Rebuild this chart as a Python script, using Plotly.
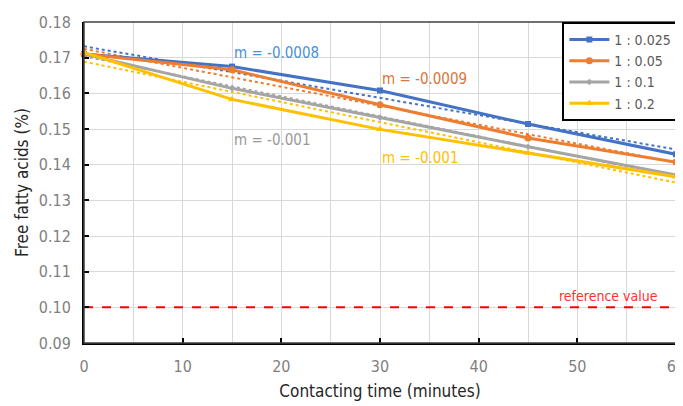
import numpy as np
import plotly.graph_objects as go

time_min = [0, 15, 30, 45, 60]
series_names = ["1 : 0.025", "1 : 0.05", "1 : 0.1", "1 : 0.2"]
ffa_1_0025 = [0.1710, 0.1675, 0.1608, 0.1514, 0.1429]
ffa_1_005 = [0.1710, 0.1666, 0.1568, 0.1475, 0.1407]
ffa_1_01 = [0.1710, 0.1614, 0.1532, 0.1450, 0.1371]
ffa_1_02 = [0.1715, 0.1583, 0.1499, 0.1433, 0.1366]
slope_labels = ["m = -0.0008", "m = -0.0009", "m = -0.001", "m = -0.001"]
reference_value = 0.10
x_ticks = [0, 10, 20, 30, 40, 50, 60]
y_ticks = [0.09, 0.10, 0.11, 0.12, 0.13, 0.14, 0.15, 0.16, 0.17, 0.18]

colors = ["#4472C4", "#ED7D31", "#A5A5A5", "#FFC000"]
label_colors = ["#4A90D9", "#D9763A", "#9A9A9A", "#FFC000"]
symbols = ["square", "circle", "diamond", "triangle-up"]
msizes = [6, 7, 5, 7]
label_pos = [(15.2, 0.1714), (30.2, 0.1640), (15.2, 0.1468), (30.2, 0.1418)]

FONT = "DejaVu Sans Condensed, Liberation Sans Narrow, Roboto, sans-serif"

all_series = [ffa_1_0025, ffa_1_005, ffa_1_01, ffa_1_02]
fig = go.Figure()

for ys, c in zip(all_series, colors):
    m, b = np.polyfit(time_min, ys, 1)
    xs = [time_min[0], time_min[-1]]
    fig.add_trace(go.Scatter(x=xs, y=[m * x + b for x in xs], mode="lines",
                             line=dict(color=c, width=2, dash="dot"),
                             showlegend=False, hoverinfo="skip", cliponaxis=False))

for ys, name, c, s, ms in zip(all_series, series_names, colors, symbols, msizes):
    fig.add_trace(go.Scatter(x=time_min, y=ys, mode="lines+markers", name=name,
                             line=dict(color=c, width=3),
                             marker=dict(symbol=s, size=ms, color=c), cliponaxis=False))

fig.add_trace(go.Scatter(x=[0, 60], y=[reference_value, reference_value], mode="lines",
                         line=dict(color="#FF0000", width=2, dash="dash"),
                         showlegend=False, hoverinfo="skip"))

for (lx, ly), txt, lc in zip(label_pos, slope_labels, label_colors):
    fig.add_annotation(x=lx, y=ly, text=txt, showarrow=False, xanchor="left",
                       yanchor="middle", xshift=-2, font=dict(family=FONT, size=15, color=lc))

fig.add_annotation(x=58.2, y=0.1033, text="reference value", showarrow=False,
                   xanchor="right", yanchor="middle", xshift=2,
                   font=dict(family=FONT, size=14, color="#FF3030"))

fig.update_layout(
    width=683, height=406,
    margin=dict(l=76, r=15, t=14, b=71),
    paper_bgcolor="white", plot_bgcolor="white",
    font=dict(family=FONT, size=16, color="#595959"),
    legend=dict(x=1.004, y=1, xanchor="right", yanchor="top",
                bordercolor="black", borderwidth=2, bgcolor="white",
                font=dict(family=FONT, size=14, color="#595959"),
                tracegroupgap=0, itemwidth=40),
    showlegend=True,
)
fig.update_xaxes(range=[0, 60], tickvals=x_ticks, ticks="inside", ticklen=5, tickwidth=2,
                 tickcolor="black", showline=True, linecolor="black", linewidth=2,
                 showgrid=True, gridcolor="#D9D9D9", gridwidth=1,
                 minor=dict(dtick=5, showgrid=True, gridcolor="#D9D9D9"),
                 zeroline=False, automargin=False, ticklabelstandoff=8,
                 title=dict(text="Contacting time (minutes)", font=dict(size=17, color="#262626"), standoff=10),
                 tickfont=dict(size=16, color="#7F7F7F"))
fig.update_yaxes(range=[0.09, 0.18], tickvals=y_ticks, tickformat=".2f", ticks="inside",
                 ticklen=5, tickwidth=2, tickcolor="black", showline=True, linecolor="black",
                 linewidth=2, showgrid=True, gridcolor="#D9D9D9", zeroline=False, automargin=False,
                 ticklabelstandoff=8,
                 title=dict(text="Free fatty acids (%)", font=dict(size=17, color="#262626"), standoff=6),
                 tickfont=dict(size=16, color="#7F7F7F"))
fig.add_shape(type="rect", xref="paper", yref="paper", x0=0, y0=0, x1=1, y1=1,
              line=dict(color="#404040", width=1.5), layer="above")

fig.write_html("out.html")
